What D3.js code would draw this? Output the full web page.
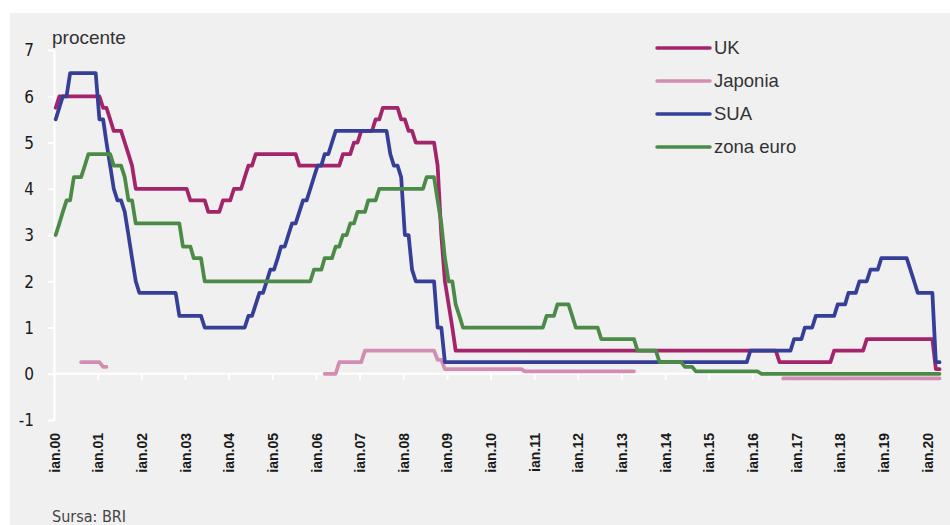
<!DOCTYPE html>
<html>
<head>
<meta charset="utf-8">
<script src="https://cdnjs.cloudflare.com/ajax/libs/d3/7.8.5/d3.min.js"></script>
<style>
  html, body { margin: 0; padding: 0; background: #ffffff; }
  svg { display: block; }
</style>
</head>
<body>
<svg id="chart" width="950" height="525"></svg>
<script>
// Policy rates, month-end values at each corner of the line (percent)
const ukRate = [
  ["2000-01", 5.75], ["2000-02", 6.0], ["2001-01", 6.0], ["2001-02", 5.75], ["2001-03", 5.75],
  ["2001-04", 5.5], ["2001-05", 5.25], ["2001-07", 5.25], ["2001-08", 5.0], ["2001-09", 4.75],
  ["2001-10", 4.5], ["2001-11", 4.0], ["2003-01", 4.0], ["2003-02", 3.75], ["2003-06", 3.75],
  ["2003-07", 3.5], ["2003-10", 3.5], ["2003-11", 3.75], ["2004-01", 3.75], ["2004-02", 4.0],
  ["2004-04", 4.0], ["2004-05", 4.25], ["2004-06", 4.5], ["2004-07", 4.5], ["2004-08", 4.75],
  ["2005-07", 4.75], ["2005-08", 4.5], ["2006-07", 4.5], ["2006-08", 4.75], ["2006-10", 4.75],
  ["2006-11", 5.0], ["2006-12", 5.0], ["2007-01", 5.25], ["2007-04", 5.25], ["2007-05", 5.5],
  ["2007-06", 5.5], ["2007-07", 5.75], ["2007-11", 5.75], ["2007-12", 5.5], ["2008-01", 5.5],
  ["2008-02", 5.25], ["2008-03", 5.25], ["2008-04", 5.0], ["2008-09", 5.0], ["2008-10", 4.5],
  ["2008-11", 3.0], ["2008-12", 2.0], ["2009-01", 1.5], ["2009-02", 1.0], ["2009-03", 0.5],
  ["2016-07", 0.5], ["2016-08", 0.25], ["2017-10", 0.25], ["2017-11", 0.5], ["2018-07", 0.5],
  ["2018-08", 0.75], ["2020-02", 0.75], ["2020-03", 0.1], ["2020-04", 0.1]
];

// null marks the months without a published target
const japanRate = [
  ["2000-08", 0.25], ["2001-01", 0.25], ["2001-02", 0.15], ["2001-03", 0.15], ["2001-04", null],
  ["2006-02", null], ["2006-03", 0.0], ["2006-06", 0.0], ["2006-07", 0.25], ["2007-01", 0.25],
  ["2007-02", 0.5], ["2008-09", 0.5], ["2008-10", 0.3], ["2008-11", 0.3], ["2008-12", 0.1],
  ["2010-09", 0.1], ["2010-10", 0.05], ["2013-04", 0.05], ["2013-05", null],
  ["2016-08", null], ["2016-09", -0.1], ["2020-04", -0.1]
];

const usRate = [
  ["2000-01", 5.5], ["2000-03", 6.0], ["2000-04", 6.0], ["2000-05", 6.5], ["2000-12", 6.5],
  ["2001-01", 5.5], ["2001-02", 5.5], ["2001-03", 5.0], ["2001-04", 4.5], ["2001-05", 4.0],
  ["2001-06", 3.75], ["2001-07", 3.75], ["2001-08", 3.5], ["2001-09", 3.0], ["2001-10", 2.5],
  ["2001-11", 2.0], ["2001-12", 1.75], ["2002-10", 1.75], ["2002-11", 1.25], ["2003-05", 1.25],
  ["2003-06", 1.0], ["2004-05", 1.0], ["2004-06", 1.25], ["2004-07", 1.25], ["2004-08", 1.5],
  ["2004-09", 1.75], ["2004-10", 1.75], ["2004-11", 2.0], ["2004-12", 2.25], ["2005-01", 2.25],
  ["2005-02", 2.5], ["2005-03", 2.75], ["2005-04", 2.75], ["2005-05", 3.0], ["2005-06", 3.25],
  ["2005-07", 3.25], ["2005-08", 3.5], ["2005-09", 3.75], ["2005-10", 3.75], ["2005-11", 4.0],
  ["2005-12", 4.25], ["2006-01", 4.5], ["2006-02", 4.5], ["2006-03", 4.75], ["2006-04", 4.75],
  ["2006-05", 5.0], ["2006-06", 5.25], ["2007-08", 5.25], ["2007-09", 4.75], ["2007-10", 4.5],
  ["2007-11", 4.5], ["2007-12", 4.25], ["2008-01", 3.0], ["2008-02", 3.0], ["2008-03", 2.25],
  ["2008-04", 2.0], ["2008-09", 2.0], ["2008-10", 1.0], ["2008-11", 1.0], ["2008-12", 0.25],
  ["2015-11", 0.25], ["2015-12", 0.5], ["2016-11", 0.5], ["2016-12", 0.75], ["2017-02", 0.75],
  ["2017-03", 1.0], ["2017-05", 1.0], ["2017-06", 1.25], ["2017-11", 1.25], ["2017-12", 1.5],
  ["2018-02", 1.5], ["2018-03", 1.75], ["2018-05", 1.75], ["2018-06", 2.0], ["2018-08", 2.0],
  ["2018-09", 2.25], ["2018-11", 2.25], ["2018-12", 2.5], ["2019-07", 2.5], ["2019-08", 2.25],
  ["2019-09", 2.0], ["2019-10", 1.75], ["2020-02", 1.75], ["2020-03", 0.25], ["2020-04", 0.25]
];

const euroRate = [
  ["2000-01", 3.0], ["2000-02", 3.25], ["2000-03", 3.5], ["2000-04", 3.75], ["2000-05", 3.75],
  ["2000-06", 4.25], ["2000-08", 4.25], ["2000-09", 4.5], ["2000-10", 4.75], ["2001-04", 4.75],
  ["2001-05", 4.5], ["2001-07", 4.5], ["2001-08", 4.25], ["2001-09", 3.75], ["2001-10", 3.75],
  ["2001-11", 3.25], ["2002-11", 3.25], ["2002-12", 2.75], ["2003-02", 2.75], ["2003-03", 2.5],
  ["2003-05", 2.5], ["2003-06", 2.0], ["2005-11", 2.0], ["2005-12", 2.25], ["2006-02", 2.25],
  ["2006-03", 2.5], ["2006-05", 2.5], ["2006-06", 2.75], ["2006-07", 2.75], ["2006-08", 3.0],
  ["2006-09", 3.0], ["2006-10", 3.25], ["2006-11", 3.25], ["2006-12", 3.5], ["2007-02", 3.5],
  ["2007-03", 3.75], ["2007-05", 3.75], ["2007-06", 4.0], ["2008-06", 4.0], ["2008-07", 4.25],
  ["2008-09", 4.25], ["2008-10", 3.75], ["2008-11", 3.25], ["2008-12", 2.5], ["2009-01", 2.0],
  ["2009-02", 2.0], ["2009-03", 1.5], ["2009-04", 1.25], ["2009-05", 1.0], ["2011-03", 1.0],
  ["2011-04", 1.25], ["2011-06", 1.25], ["2011-07", 1.5], ["2011-10", 1.5], ["2011-11", 1.25],
  ["2011-12", 1.0], ["2012-06", 1.0], ["2012-07", 0.75], ["2013-04", 0.75], ["2013-05", 0.5],
  ["2013-10", 0.5], ["2013-11", 0.25], ["2014-05", 0.25], ["2014-06", 0.15], ["2014-08", 0.15],
  ["2014-09", 0.05], ["2016-02", 0.05], ["2016-03", 0.0], ["2020-04", 0.0]
];

const seriesNames = ["UK", "Japonia", "SUA", "zona euro"];
const seriesColors = ["#a3246b", "#d48db2", "#353f98", "#4b8a47"];
const seriesData = [ukRate, japanRate, usRate, euroRate];

const yTickValues = [-1, 0, 1, 2, 3, 4, 5, 6, 7];
const xTickLabels = ["ian.00", "ian.01", "ian.02", "ian.03", "ian.04", "ian.05", "ian.06",
  "ian.07", "ian.08", "ian.09", "ian.10", "ian.11", "ian.12", "ian.13", "ian.14", "ian.15",
  "ian.16", "ian.17", "ian.18", "ian.19", "ian.20"];

const unitLabel = "procente";
const sourceLabel = "Sursa: BRI";

// ---- drawing ----
const svg = d3.select("#chart");
const W = 950, H = 525;

const condensed = "'Liberation Sans Narrow', 'Arial Narrow', 'DejaVu Sans Condensed', sans-serif";
const regular = "'Liberation Sans', Arial, sans-serif";

// panel background
svg.append("rect").attr("x", 10).attr("y", 13).attr("width", W - 10).attr("height", H - 13)
  .attr("fill", "#f0f0f0");

const monthPoint = s => {
  const [yy, mm] = s.split("-").map(Number);
  return new Date(yy, mm - 1, 15);
};
const tickDate = label => new Date(2000 + Number(label.slice(4)), 0, 1);

const x = d3.scaleTime()
  .domain([new Date(2000, 0, 1), new Date(2020, 0, 1)])
  .range([54, 927]);
const y = d3.scaleLinear().domain([-1, 7]).range([420, 50]);

// y axis
const yAxis = svg.append("g")
  .attr("transform", `translate(${x(new Date(2000, 0, 1))},0)`)
  .call(d3.axisLeft(y).tickValues(yTickValues).tickSize(6).tickSizeOuter(0)
    .tickPadding(14).tickFormat(d => String(d)));
yAxis.select(".domain").attr("stroke", "#ffffff").attr("stroke-width", 2);
yAxis.selectAll(".tick line").attr("stroke", "#ffffff").attr("stroke-width", 2);
yAxis.selectAll(".tick text")
  .attr("fill", "#1a1a1a").attr("font-family", condensed).attr("font-size", 17)
  .attr("dy", "0.34em");

// x axis: tick marks on the zero line
const xDates = xTickLabels.map(tickDate);
const axisEnd = new Date(2020, 4, 1);
svg.append("line")
  .attr("x1", x(new Date(2000, 0, 1))).attr("x2", x(axisEnd))
  .attr("y1", y(0)).attr("y2", y(0))
  .attr("stroke", "#ffffff").attr("stroke-width", 2);
const xAxis = svg.append("g")
  .attr("transform", `translate(0,${y(0)})`)
  .call(d3.axisBottom(x).tickValues(xDates).tickSize(6).tickSizeOuter(0).tickFormat(""));
xAxis.select(".domain").remove();
xAxis.selectAll(".tick line").attr("stroke", "#ffffff").attr("stroke-width", 2);

// x labels sit below the plot
const xLabels = svg.append("g")
  .attr("transform", `translate(0,${y(-1) + 4})`)
  .call(d3.axisBottom(x).tickValues(xDates).tickSize(0)
    .tickFormat((d, i) => xTickLabels[i]));
xLabels.select(".domain").remove();
xLabels.selectAll(".tick text")
  .attr("transform", "rotate(-90)")
  .attr("x", -9).attr("y", 0).attr("dy", "0.36em")
  .attr("text-anchor", "end")
  .attr("fill", "#1a1a1a")
  .attr("font-family", regular).attr("font-size", 14).attr("font-weight", 700);

// series lines
const line = d3.line()
  .defined(d => d[1] !== null)
  .x(d => x(monthPoint(d[0])))
  .y(d => y(d[1]));

seriesData.forEach((data, i) => {
  svg.append("path")
    .datum(data)
    .attr("d", line)
    .attr("fill", "none")
    .attr("stroke", seriesColors[i])
    .attr("stroke-width", 3.75)
    .attr("stroke-linejoin", "round")
    .attr("stroke-linecap", "round");
});

// unit label
svg.append("text").attr("x", 52).attr("y", 44)
  .attr("font-family", regular).attr("font-size", 19).attr("fill", "#333333")
  .text(unitLabel);

// legend
const legend = svg.append("g").attr("transform", "translate(657,48)");
seriesNames.forEach((name, i) => {
  const g = legend.append("g").attr("transform", `translate(0,${i * 33})`);
  g.append("line").attr("x1", 0).attr("x2", 53).attr("y1", 0).attr("y2", 0)
    .attr("stroke", seriesColors[i]).attr("stroke-width", 3.5).attr("stroke-linecap", "round");
  g.append("text").attr("x", 57).attr("y", 0).attr("dy", "0.35em")
    .attr("font-family", regular).attr("font-size", 18.5).attr("fill", "#333333")
    .text(name);
});

// source note
svg.append("text").attr("x", 52).attr("y", 522)
  .attr("font-family", condensed).attr("font-size", 16).attr("fill", "#444444")
  .text(sourceLabel);
</script>
</body>
</html>
